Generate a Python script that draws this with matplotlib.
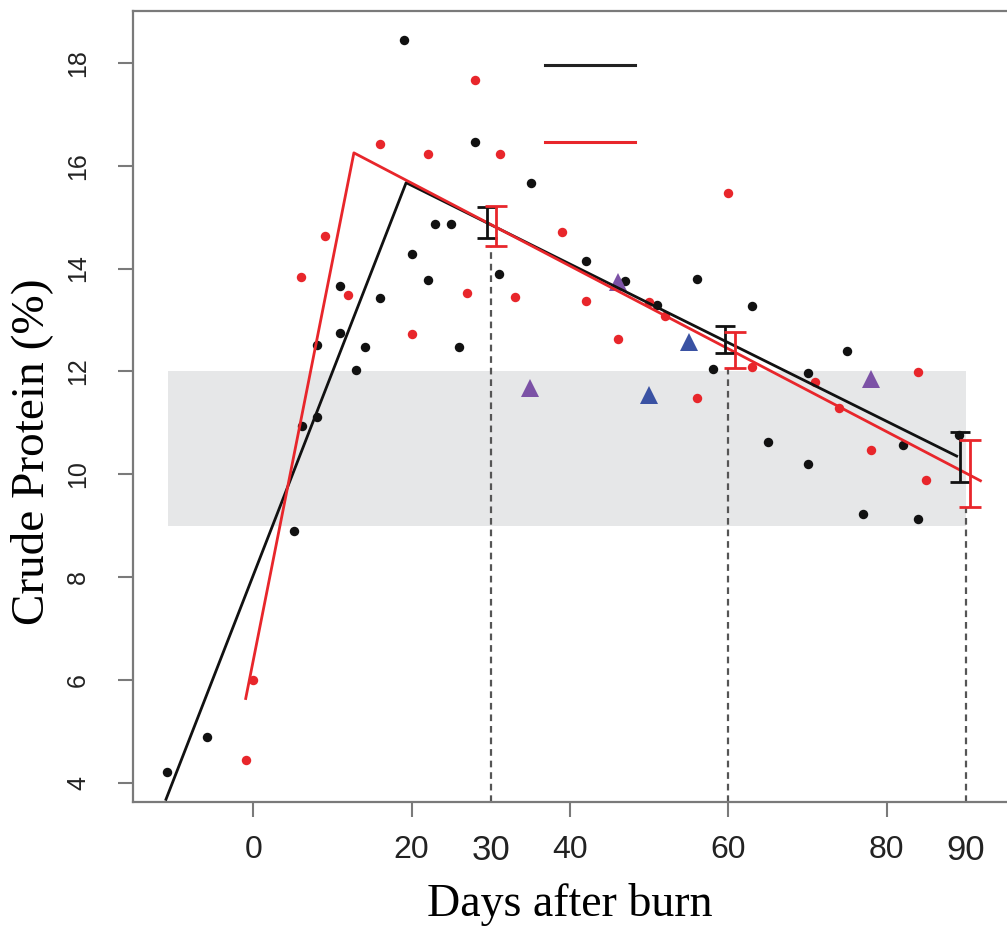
import numpy as np
import matplotlib
matplotlib.use("Agg")
import matplotlib.pyplot as plt
import matplotlib.transforms as mtransforms

# field samples, crude protein (%) against days after burn
black_days = [-10.9, -5.9, 5.1, 6.1, 8.0, 8.0, 11.0, 11.0, 13.0, 14.1, 16.0, 19.0,
              20.0, 22.0, 23.0, 25.0, 26.0, 28.0, 31.0, 35.1, 42.0, 47.0, 51.0,
              56.0, 58.0, 63.0, 65.0, 70.0, 70.0, 75.0, 77.0, 82.0, 84.0, 89.1]
black_cp = [4.20, 4.88, 8.90, 10.94, 11.11, 12.52, 12.74, 13.67, 12.02, 12.48, 13.42, 18.45,
            14.28, 13.78, 14.87, 14.87, 12.48, 16.46, 13.90, 15.66, 14.14, 13.75, 13.29,
            13.80, 12.04, 13.27, 10.62, 11.97, 10.20, 12.39, 9.22, 10.56, 9.13, 10.77]

red_days = [-0.9, 0.0, 6.0, 9.0, 12.0, 16.0, 20.0, 22.1, 27.0, 28.0, 31.1, 33.0, 39.0,
            42.0, 46.0, 50.0, 52.0, 56.0, 60.0, 63.0, 71.0, 74.0, 78.0, 84.0, 85.0]
red_cp = [4.44, 6.00, 13.83, 14.64, 13.48, 16.42, 12.73, 16.23, 13.52, 17.67, 16.23, 13.44, 14.71,
          13.37, 12.63, 13.34, 13.08, 11.49, 15.47, 12.09, 11.80, 11.28, 10.47, 11.98, 9.88]

purple_days = [35.0, 46.0, 78.0]
purple_cp = [11.68, 13.74, 11.85]
blue_days = [50.0, 55.0]
blue_cp = [11.54, 12.58]

# broken-stick fits
black_fit_x = [-11.1, 19.3, 89.0]
black_fit_y = [3.65, 15.67, 10.34]
red_fit_x = [-1.0, 12.7, 92.0]
red_fit_y = [5.61, 16.25, 9.86]

# error bars at 30, 60, 90 days
black_err_x = [29.5, 59.6, 89.3]
black_err_lo = [14.59, 12.35, 9.84]
black_err_hi = [15.19, 12.89, 10.83]
red_err_x = [30.6, 60.9, 90.5]
red_err_lo = [14.43, 12.06, 9.37]
red_err_hi = [15.22, 12.76, 10.67]

mark_days = [30, 60, 90]
band_x = [-10.8, 90.0]
band_lo, band_hi = 9, 12

xticks = [0, 20, 40, 60, 80]
yticks = [4, 6, 8, 10, 12, 14, 16, 18]

RED = '#e8262b'
BLK = '#111111'
AX = '#7a7a7a'

fig = plt.figure(figsize=(10.07, 9.30), dpi=100)
ax = fig.add_axes([0.1321, 0.1380, 0.8679, 0.8502])
ax.set_xlim(-15.2, 95.2)
ax.set_ylim(3.63, 19.01)

ax.fill_between(band_x, band_lo, band_hi, color='#e6e7e8', lw=0, zorder=0)

for d, lo in zip(mark_days, red_err_lo):
    ax.plot([d, d], [3.63, lo], color='#555555', lw=1.6, ls=(0, (3, 2.2)), zorder=1)

ax.plot(black_days, black_cp, 'o', color=BLK, ms=6.8, mew=0, zorder=3)
ax.plot(red_days, red_cp, 'o', color=RED, ms=6.8, mew=0, zorder=3)
ax.plot(purple_days, purple_cp, '^', color='#7c52a6', ms=13, mew=0, zorder=4)
ax.plot(blue_days, blue_cp, '^', color='#3a52a3', ms=13, mew=0, zorder=4)

ax.plot(black_fit_x, black_fit_y, color=BLK, lw=2.0, zorder=5, solid_capstyle='butt')
ax.plot(red_fit_x, red_fit_y, color=RED, lw=2.0, zorder=6, solid_capstyle='butt')

bx = np.array(black_err_x)
ax.errorbar(bx, (np.array(black_err_lo) + np.array(black_err_hi)) / 2,
            yerr=(np.array(black_err_hi) - np.array(black_err_lo)) / 2,
            fmt='none', ecolor=BLK, elinewidth=2, capsize=7, capthick=2, zorder=7)
rx = np.array(red_err_x)
ax.errorbar(rx, (np.array(red_err_lo) + np.array(red_err_hi)) / 2,
            yerr=(np.array(red_err_hi) - np.array(red_err_lo)) / 2,
            fmt='none', ecolor=RED, elinewidth=2, capsize=8, capthick=2, zorder=8)

# legend keys (labels were blank in the figure)
ax.plot([0.471, 0.574], [0.932, 0.932], color='#222222', lw=2.2, transform=ax.transAxes)
ax.plot([0.471, 0.574], [0.834, 0.834], color=RED, lw=2.2, transform=ax.transAxes)

for side in ['left', 'bottom', 'top']:
    ax.spines[side].set_color(AX)
    ax.spines[side].set_linewidth(1.6)
ax.spines['right'].set_visible(False)

ax.set_xticks(xticks)
ax.set_yticks(yticks)
ax.tick_params(axis='both', direction='out', length=11, width=1.5, color=AX)
ax.tick_params(axis='x', pad=13, labelsize=23, labelcolor='#222222')
ax.tick_params(axis='y', pad=20, labelsize=18, labelcolor='#222222', labelrotation=90)
for lab in ax.get_xticklabels() + ax.get_yticklabels():
    lab.set_family('Liberation Sans')
for lab in ax.get_yticklabels():
    lab.set_va('center')

trans = mtransforms.blended_transform_factory(ax.transData, ax.transAxes)
for d in [30, 90]:
    ax.text(d, -0.0624, str(d), transform=trans, ha='center', va='center',
            fontsize=25, family='Liberation Sans', color='#222222')

ax.set_xlabel('Days after burn', fontsize=33, family='Liberation Serif', va='center')
ax.xaxis.set_label_coords(0.5, -0.1306)
ax.set_ylabel('Crude Protein (%)', fontsize=34, family='Liberation Serif', va='center')
ax.yaxis.set_label_coords(-0.1156, 0.442)

fig.savefig('out.png', dpi=100)
